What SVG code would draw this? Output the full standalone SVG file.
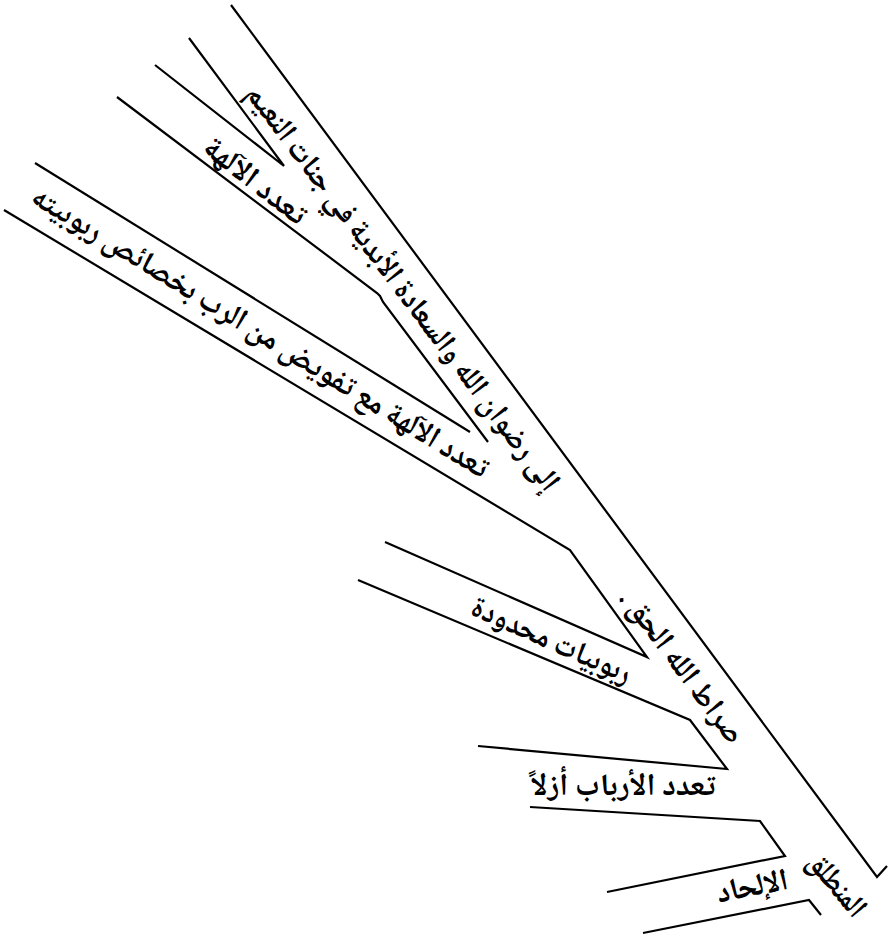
<svg xmlns="http://www.w3.org/2000/svg" width="890" height="941" viewBox="0 0 890 941">
<style>
.ln{fill:none;stroke:#000;stroke-width:2.2;stroke-linejoin:miter;stroke-linecap:butt}
.t{font-family:"Noto Naskh Arabic","Noto Sans Arabic","DejaVu Sans",sans-serif;font-size:31px;font-weight:bold;fill:#000;text-anchor:middle;direction:rtl;unicode-bidi:embed}
</style>
<rect width="890" height="941" fill="#fff"/>
<g id="connectors">
<polyline class="ln" points="231,5 877,877 887,866"/>
<polyline class="ln" points="189,38 284,166 155,65"/>
<polyline class="ln" points="117,97 377,293 380,296 383,302 488,442"/>
<polyline class="ln" points="35,163 470,432"/>
<polyline class="ln" points="4,210 570,550 647,657 385,542"/>
<polyline class="ln" points="358,580 690,720 727,769 478,746"/>
<polyline class="ln" points="530,807 760,821 785,856 607,892"/>
<polyline class="ln" points="643,933 809,900 821,915"/>
</g>
<g id="n-ridwan"><text class="t" transform="translate(404,287) rotate(53)" y="11" textLength="500" lengthAdjust="spacingAndGlyphs">إلى رضوان الله والسعادة الأبدية في جنات النعيم</text></g>
<g id="n-taaddud-alaliha"><text class="t" transform="translate(256,180) rotate(38)" y="11" textLength="122" lengthAdjust="spacingAndGlyphs">تعدد الآلهة</text></g>
<g id="n-tafwid"><text class="t" transform="translate(261,331) rotate(31.5)" y="11" textLength="530" lengthAdjust="spacingAndGlyphs">تعدد الآلهة مع تفويض من الرب بخصائص ربوبيته</text></g>
<g id="n-sirat"><text class="t" transform="translate(683,665) rotate(53)" y="11" textLength="186" lengthAdjust="spacingAndGlyphs">صراط الله الحق .</text></g>
<g id="n-rububiyat"><text class="t" transform="translate(552,639) rotate(24)" y="11" textLength="172" lengthAdjust="spacingAndGlyphs">ربوبيات محدودة</text></g>
<g id="n-arbab"><text class="t" transform="translate(623,784)" y="11" textLength="185" lengthAdjust="spacingAndGlyphs">تعدد الأرباب أزلاً</text></g>
<g id="n-ilhad"><text class="t" transform="translate(752,885) rotate(-11)" y="11" textLength="72" lengthAdjust="spacingAndGlyphs">الإلحاد</text></g>
<g id="n-muntalaq"><text class="t" transform="translate(838,884) rotate(50)" y="11" textLength="74" lengthAdjust="spacingAndGlyphs">المنطلق</text></g>
</svg>
